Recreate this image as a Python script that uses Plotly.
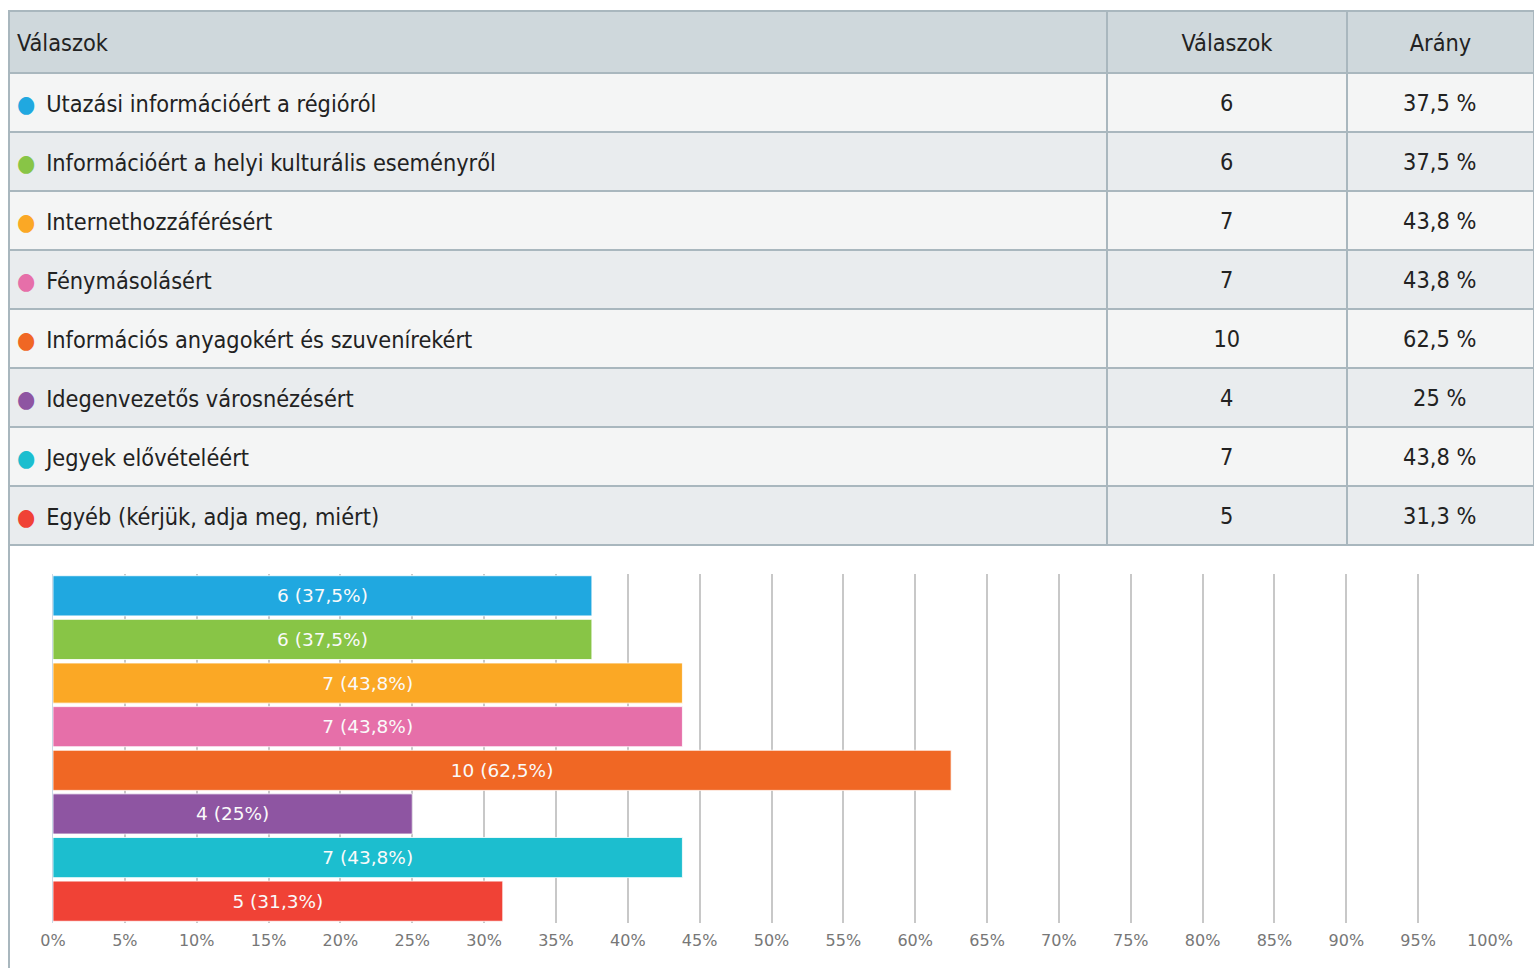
import plotly.graph_objects as go

categories = [
    "Utazási információért a régióról",
    "Információért a helyi kulturális eseményről",
    "Internethozzáférésért",
    "Fénymásolásért",
    "Információs anyagokért és szuvenírekért",
    "Idegenvezetős városnézésért",
    "Jegyek elővételéért",
    "Egyéb (kérjük, adja meg, miért)",
]
counts = [6, 6, 7, 7, 10, 4, 7, 5]
percents = [37.5, 37.5, 43.8, 43.8, 62.5, 25, 43.8, 31.3]
colors = ["#20a8e0", "#88c546", "#fba825", "#e66fa9", "#f06724",
          "#8e55a2", "#1cbecf", "#f04236"]
header_labels = ["Válaszok", "Válaszok", "Arány"]
x_ticks = list(range(0, 101, 5))

W, H = 1534, 968
NB = "\u00a0"
THIN = "\u2009"


def pct_str(p):
    s = f"{p:.1f}".replace(".", ",")
    return s[:-2] if s.endswith(",0") else s


TABLE_FONT = "DejaVu Sans Condensed, Liberation Sans Narrow, sans-serif"
CHART_FONT = "DejaVu Sans, Verdana, sans-serif"
FS = 23.3
TEXT_COLOR = "#222222"
CLEAR = "rgba(0,0,0,0)"

col1 = [f'<span style="color:{c}">●</span>{NB}{THIN}{n.replace(" ", NB)}'
        for c, n in zip(colors, categories)]
col2 = [str(c) for c in counts]
col3 = [f"{pct_str(p)}{NB}%" for p in percents]
row_fill = ["#f4f5f5" if i % 2 == 0 else "#e9ecee" for i in range(len(categories))]
n_rows = len(categories)

# table geometry (px)
TOP, HEAD_H, ROW_H = 11, 62, 59
BOTTOM = TOP + HEAD_H + ROW_H * n_rows
X_EDGES = [9, 1107, 1347, W]
col_widths = [b - a for a, b in zip(X_EDGES[:-1], X_EDGES[1:])]

fig = go.Figure()

# table grid: fills and borders
fig.add_trace(go.Table(
    domain=dict(x=[X_EDGES[0] / W, 1], y=[1 - (BOTTOM + 2) / H, 1 - TOP / H]),
    columnwidth=col_widths,
    header=dict(values=["", "", ""], fill_color="#cfd8dc",
                line=dict(color="#a9b7be", width=2), height=HEAD_H),
    cells=dict(values=[[""] * n_rows] * 3, fill_color=[row_fill] * 3,
               line=dict(color="#a9b7be", width=2), height=ROW_H),
))


def text_table(x0, x1, widths, head, cols, aligns, drop):
    """Transparent table carrying only text, dropped `drop` px to centre it in the rows."""
    fig.add_trace(go.Table(
        domain=dict(x=[x0 / W, x1 / W],
                    y=[1 - (BOTTOM + 2 + drop) / H, 1 - (TOP + drop) / H]),
        columnwidth=widths,
        header=dict(values=head, fill_color=CLEAR, line=dict(color=CLEAR, width=0),
                    align=aligns, font=dict(family=TABLE_FONT, size=FS, color=TEXT_COLOR),
                    height=HEAD_H),
        cells=dict(values=cols, fill_color=CLEAR, line=dict(color=CLEAR, width=0),
                   align=aligns, font=dict(family=TABLE_FONT, size=FS, color=TEXT_COLOR),
                   height=ROW_H),
    ))


# header texts
text_table(X_EDGES[0], W, col_widths, header_labels, [[""] * n_rows] * 3,
           ["left", "center", "center"], 15)
# answer labels
text_table(X_EDGES[0], X_EDGES[1], [col_widths[0]], [""], [col1], ["left"], 9)
# counts and shares
text_table(X_EDGES[1], W, col_widths[1:], ["", ""], [col2, col3],
           ["center", "center"], 13)

fig.add_trace(go.Bar(
    x=percents,
    y=categories,
    orientation="h",
    marker=dict(color=colors, line=dict(color="rgba(255,255,255,0.8)", width=1)),
    text=[f"{c} ({pct_str(p)}%)" for c, p in zip(counts, percents)],
    textposition="inside",
    insidetextanchor="middle",
    textfont=dict(family=CHART_FONT, size=18.5, color="#fafafa"),
    hoverinfo="skip",
    showlegend=False,
))

fig.update_layout(
    width=W, height=H, autosize=False,
    margin=dict(l=0, r=0, t=0, b=0, autoexpand=False),
    paper_bgcolor="white",
    plot_bgcolor="white",
    bargap=0.08,
    xaxis=dict(
        domain=[53 / W, 1490 / W],
        range=[0, 100],
        tickvals=x_ticks,
        ticktext=[f"{v}%" for v in x_ticks],
        showgrid=True, gridcolor="#c8c8c8", gridwidth=2,
        zeroline=False, showline=False, automargin=False,
        tickfont=dict(family=CHART_FONT, size=16, color="#777777"),
        ticks="", ticklabelstandoff=6,
        fixedrange=True,
    ),
    yaxis=dict(
        domain=[1 - 923 / H, 1 - 574 / H],
        autorange="reversed",
        showticklabels=False, automargin=False,
        showgrid=False, zeroline=False,
        showline=True, linecolor="#c9d9e6", linewidth=1,
        ticks="",
        fixedrange=True,
    ),
    shapes=[
        dict(type="line", xref="paper", yref="paper",
             x0=9 / W, x1=9 / W, y0=0, y1=1 - BOTTOM / H,
             line=dict(color="#a9b7be", width=2)),
    ],
)

fig.write_html(
    "out.html",
    config={"displayModeBar": False, "responsive": False},
    post_script="document.body.style.margin='0';document.body.style.overflow='hidden';",
)
